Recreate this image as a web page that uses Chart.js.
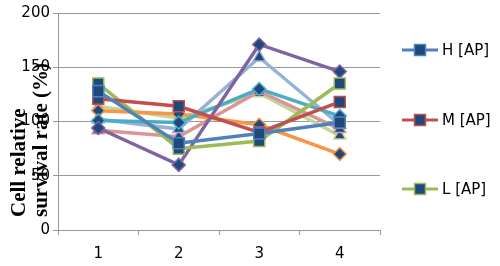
<!DOCTYPE html>
<html lang="en">
<head>
<meta charset="UTF-8">
<title>Cell relative survival rate</title>
<script src="https://cdn.jsdelivr.net/npm/chart.js@4.4.0/dist/chart.umd.min.js"></script>
<style>
    body { margin: 0; background: #fff; }
    #wrap { width: 500px; height: 266px; }
</style>
</head>
<body>
<div id="wrap"><canvas id="chart" width="500" height="266"></canvas></div>
<script>
// data
var categories = ['1', '2', '3', '4'];
var seriesNames = ['H [AP]', 'M [AP]', 'L [AP]', 'H [B]', 'M [B]', 'L [B]', 'H [C]', 'M [C]', 'L [C]'];
var hAP = [128, 80, 89, 99];
var mAP = [121, 114, 90, 118];
var lAP = [135, 75, 82, 135];
var s4 = [94, 60, 171, 146];
var s5 = [101, 99, 130, 105];
var s6 = [110, 107, 97, 70];
var s7 = [102, 93, 159, 97];
var s8 = [92, 86, 128, 93];
var s9 = [114, 103, 126, 87];
var yTicks = [0, 50, 100, 150, 200];

var seriesValues = [hAP, mAP, lAP, s4, s5, s6, s7, s8, s9];
var colors = ['#4F81BD', '#C0504D', '#9BBB59', '#8064A2', '#4BACC6', '#F79646', '#95B3D7', '#D99694', '#C3D69B'];
var markers = ['rect', 'rect', 'rect', 'rectRot', 'rectRot', 'rectRot', 'triangle', 'triangle', 'triangle'];
var markerRadius = { rect: 7.8, rectRot: 6.5, triangle: 7 };
var markerFill = '#1F497D';

var datasets = seriesValues.map(function(vals, i){
    return {
        label: seriesNames[i],
        data: vals,
        borderColor: colors[i],
        backgroundColor: colors[i],
        borderWidth: 3.5,
        tension: 0,
        pointStyle: markers[i],
        pointRadius: markerRadius[markers[i]],
        pointBackgroundColor: markerFill,
        pointBorderColor: colors[i],
        pointBorderWidth: 1.5
    };
});

// y title + the three legend rows that fit (the rest is cut off)
var extras = {
    id: 'extras',
    afterDraw: function(chart){
        var ctx = chart.ctx;
        ctx.save();
        ctx.fillStyle = '#000';
        ctx.font = 'bold 21px "Liberation Serif", serif';
        ctx.textAlign = 'left';
        ctx.textBaseline = 'alphabetic';
        ctx.save();
        ctx.translate(25, 217);
        ctx.rotate(-Math.PI / 2);
        ctx.fillText('Cell relative', 0, 0);
        ctx.restore();
        ctx.save();
        ctx.translate(47, 217);
        ctx.rotate(-Math.PI / 2);
        ctx.fillText('survival rate (%)', 0, 0);
        ctx.restore();

        var rows = [50, 120, 189];
        rows.forEach(function(y, i){
            ctx.strokeStyle = colors[i];
            ctx.lineWidth = 3;
            ctx.beginPath();
            ctx.moveTo(402, y);
            ctx.lineTo(438, y);
            ctx.stroke();
            ctx.fillStyle = markerFill;
            ctx.fillRect(414.5, y - 5.5, 11, 11);
            ctx.lineWidth = 1.5;
            ctx.strokeRect(414.5, y - 5.5, 11, 11);
            ctx.fillStyle = '#000';
            ctx.font = '15px "DejaVu Sans", sans-serif';
            ctx.textBaseline = 'middle';
            ctx.fillText(seriesNames[i], 442, y + 1);
        });
        ctx.restore();
    }
};

new Chart(document.getElementById('chart'), {
    type: 'line',
    data: { labels: categories, datasets: datasets },
    options: {
        responsive: false,
        devicePixelRatio: 1,
        animation: false,
        layout: { padding: { top: 13, right: 120, left: 0, bottom: 0 } },
        plugins: { legend: { display: false }, tooltip: { enabled: false } },
        scales: {
            x: {
                offset: true,
                grid: { offset: true, drawOnChartArea: false, tickLength: 5, color: '#999' },
                border: { color: '#999' },
                ticks: { color: '#000', padding: 10, font: { family: 'DejaVu Sans', size: 15 } },
                afterFit: function(s){ s.height = 36; }
            },
            y: {
                min: 0,
                max: 200,
                afterBuildTicks: function(s){ s.ticks = yTicks.map(function(v){ return { value: v }; }); },
                grid: { tickLength: 5, color: '#999' },
                border: { color: '#999' },
                ticks: { color: '#000', padding: 3, font: { family: 'DejaVu Sans', size: 15 } },
                afterFit: function(s){ s.width = 58; }
            }
        }
    },
    plugins: [extras]
});
</script>
</body>
</html>
